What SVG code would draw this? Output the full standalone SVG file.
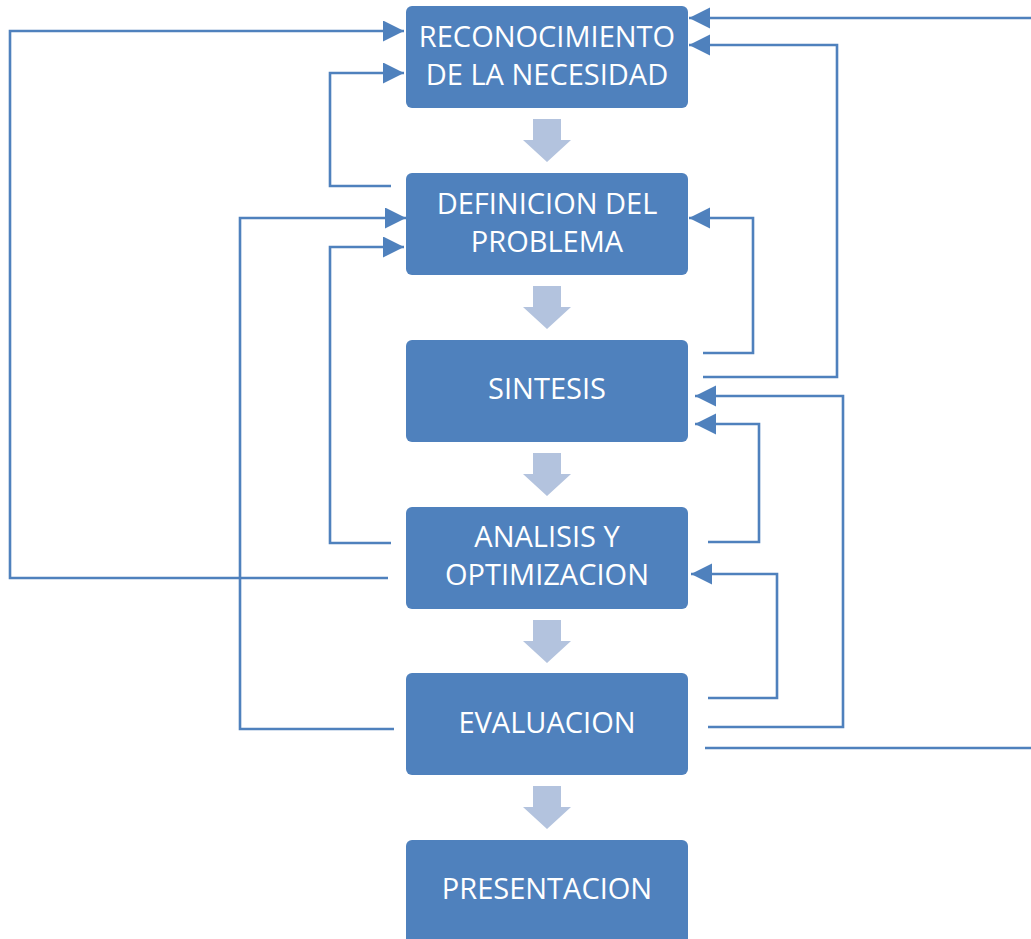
<svg xmlns="http://www.w3.org/2000/svg" width="1031" height="939" viewBox="0 0 1031 939">
<style>
.box{fill:#4F81BD;}
.lbl{fill:#FFFFFF;font-family:"Open Sans","Liberation Sans",sans-serif;font-size:29px;text-anchor:middle;}
.flow{fill:#B3C3DE;}
.conn{fill:none;stroke:#4F81BD;stroke-width:2.6;marker-end:url(#ah);}
</style>
<defs>
<marker id="ah" markerUnits="userSpaceOnUse" markerWidth="22" markerHeight="22" refX="21" refY="10.5" orient="auto">
<path d="M0,0 L21,10.5 L0,21 z" fill="#4F81BD"/>
</marker>
</defs>
<rect width="1031" height="939" fill="#FFFFFF"/>
<g id="flow-arrows">
<polygon class="flow" points="533,119 561,119 561,140 571,140 547,162 523,140 533,140"/>
<polygon class="flow" points="533,286 561,286 561,307 571,307 547,329 523,307 533,307"/>
<polygon class="flow" points="533,453 561,453 561,474 571,474 547,496 523,474 533,474"/>
<polygon class="flow" points="533,620 561,620 561,641 571,641 547,663 523,641 533,641"/>
<polygon class="flow" points="533,786 561,786 561,807 571,807 547,829 523,807 533,807"/>
</g>
<g id="connectors">
<path class="conn" d="M705,748 H1045 V18 H689"/>
<path class="conn" d="M703,377 H837 V45 H689"/>
<path class="conn" d="M703,353 H753 V218 H689"/>
<path class="conn" d="M708,727 H843 V396 H695"/>
<path class="conn" d="M708,542 H759 V424 H695"/>
<path class="conn" d="M708,698 H777 V574 H691"/>
<path class="conn" d="M388,578 H10 V31 H404"/>
<path class="conn" d="M391,186 H330 V73 H404"/>
<path class="conn" d="M394,729 H240 V218 H406"/>
<path class="conn" d="M391,543 H330 V247 H404"/>
</g>
<g id="n1"><rect class="box" x="406" y="6" width="282" height="102" rx="6"/>
<text class="lbl" x="547" y="47">RECONOCIMIENTO</text><text class="lbl" x="547" y="85">DE LA NECESIDAD</text></g>
<g id="n2"><rect class="box" x="406" y="173" width="282" height="102" rx="6"/>
<text class="lbl" x="547" y="214">DEFINICION DEL</text><text class="lbl" x="547" y="252">PROBLEMA</text></g>
<g id="n3"><rect class="box" x="406" y="340" width="282" height="102" rx="6"/>
<text class="lbl" x="547" y="399">SINTESIS</text></g>
<g id="n4"><rect class="box" x="406" y="507" width="282" height="102" rx="6"/>
<text class="lbl" x="547" y="547">ANALISIS Y</text><text class="lbl" x="547" y="585">OPTIMIZACION</text></g>
<g id="n5"><rect class="box" x="406" y="673" width="282" height="102" rx="6"/>
<text class="lbl" x="547" y="733">EVALUACION</text></g>
<g id="n6"><rect class="box" x="406" y="840" width="282" height="110" rx="6"/>
<text class="lbl" x="547" y="899">PRESENTACION</text></g>
</svg>
